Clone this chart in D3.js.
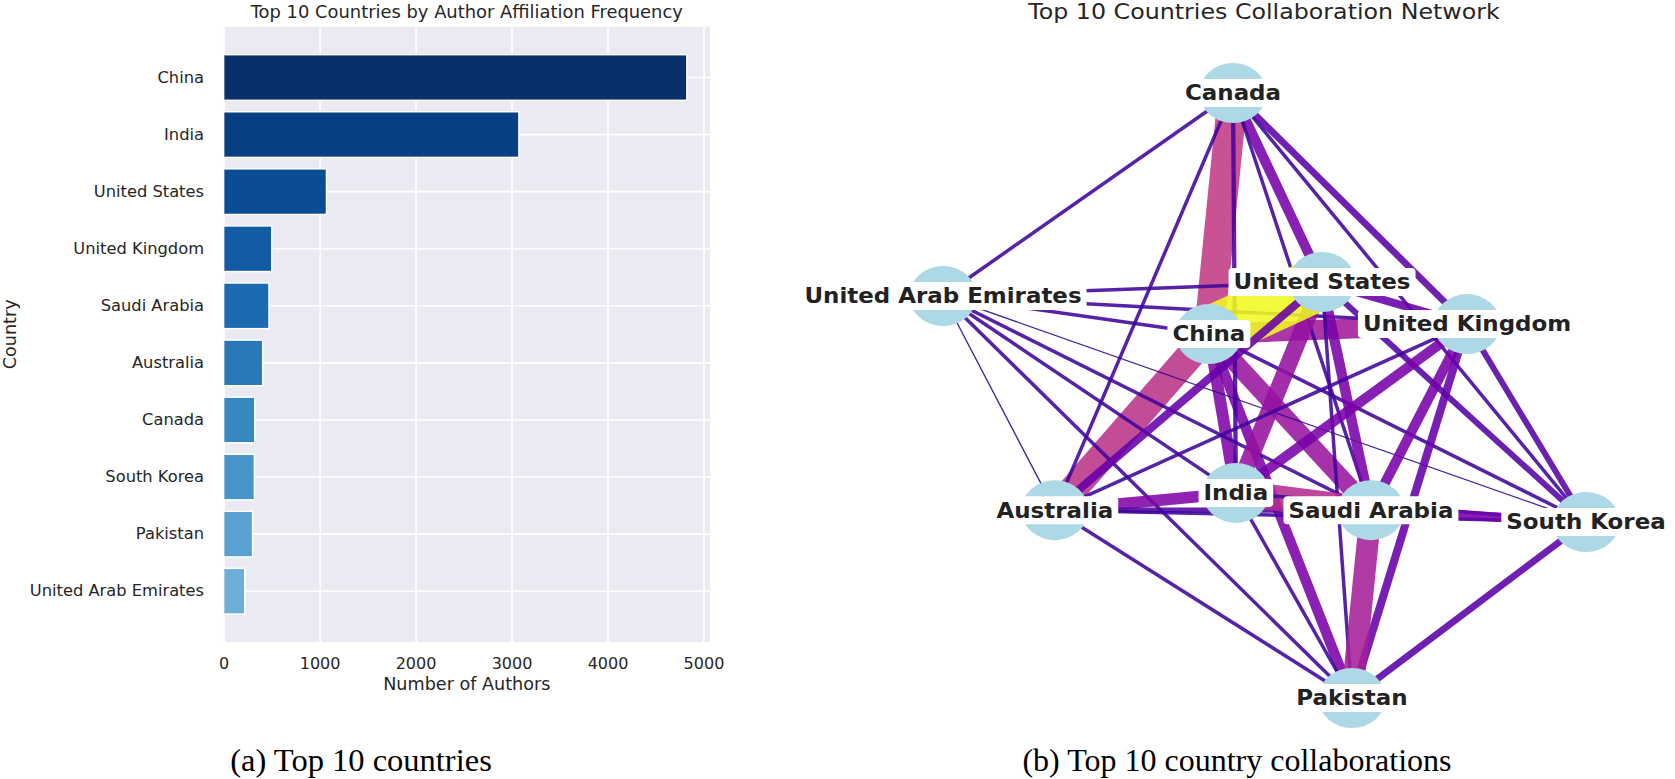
<!DOCTYPE html>
<html>
<head>
<meta charset="utf-8">
<script src="https://cdn.jsdelivr.net/npm/d3@7"></script>
<style>
  body { margin: 0; background: #fff; }
</style>
</head>
<body>
<svg id="chart" width="1675" height="779"></svg>
<script>
// ---- (a) bar chart data ----
const countries = ["China", "India", "United States", "United Kingdom", "Saudi Arabia",
                   "Australia", "Canada", "South Korea", "Pakistan", "United Arab Emirates"];
const authorCounts = [4827, 3077, 1072, 502, 473, 407, 325, 321, 302, 221];
const xTicks = [0, 1000, 2000, 3000, 4000, 5000];

// ---- (b) network data ----
const nodeNames = ["Canada", "United Arab Emirates", "United States", "China", "United Kingdom",
                   "Australia", "India", "Saudi Arabia", "South Korea", "Pakistan"];
// layout positions (spring-layout style coordinates)
const nodeX = [-0.098, -1.0, 0.179, -0.173, 0.630, -0.652, -0.089, 0.331, 1.0, 0.272];
const nodeY = [1.0, 0.329, 0.375, 0.203, 0.236, -0.379, -0.322, -0.379, -0.418, -1.0];

// edges in drawing order
const edgeFrom = ["Canada", "China", "China", "China", "China", "China", "China", "China",
  "Canada", "Canada", "Canada", "Canada", "Canada", "Canada", "Canada",
  "United Arab Emirates", "United Arab Emirates", "United Arab Emirates", "United Arab Emirates",
  "United Arab Emirates", "United Arab Emirates", "United Arab Emirates",
  "United States", "United States", "United States", "United States", "United States",
  "United Kingdom", "United Kingdom", "United Kingdom", "United Kingdom", "United Kingdom",
  "Australia", "Australia", "Australia", "Australia",
  "India", "India", "India", "Saudi Arabia", "Saudi Arabia", "South Korea",
  "China", "United States"];
const edgeTo = ["China", "Australia", "United Kingdom", "Saudi Arabia", "India", "Pakistan",
  "United Arab Emirates", "South Korea",
  "United Arab Emirates", "Australia", "India", "United States", "Saudi Arabia", "South Korea", "United Kingdom",
  "United States", "United Kingdom", "Australia", "India", "Saudi Arabia", "Pakistan", "South Korea",
  "United Kingdom", "India", "Saudi Arabia", "Pakistan", "South Korea",
  "Australia", "India", "Saudi Arabia", "Pakistan", "South Korea",
  "India", "Saudi Arabia", "South Korea", "Pakistan",
  "Saudi Arabia", "Pakistan", "South Korea", "Pakistan", "South Korea", "Pakistan",
  "United States", "Australia"];
const edgeWeight = [111, 104, 74, 67, 44, 38, 13, 13,
  13, 13, 16, 37, 13, 13, 25,
  13, 13, 5, 13, 13, 13, 5,
  30, 63, 38, 13, 22,
  13, 37, 37, 30, 22,
  43, 20, 13, 13,
  96, 13, 13, 81, 35, 25,
  200, 30];

const svg = d3.select("#chart");
const ink = "#262626";

// =================== (a) Top 10 countries ===================
const plot = { left: 223.6, right: 710, top: 26.7, bottom: 642 };

const x = d3.scaleLinear()
    .domain([0, 5068])
    .range([plot.left, plot.right]);

const y = d3.scaleBand()
    .domain(countries)
    .range([plot.top, plot.bottom])
    .paddingInner(0.2)
    .paddingOuter(0.49);

const shade = d3.scaleLinear()
    .domain([0, countries.length - 1])
    .range([1.0, 0.5]);

const barPanel = svg.append("g");

barPanel.append("rect")
    .attr("x", plot.left)
    .attr("y", plot.top)
    .attr("width", plot.right - plot.left)
    .attr("height", plot.bottom - plot.top)
    .attr("fill", "#eaeaf2");

// grid lines
const xGrid = barPanel.append("g")
    .attr("transform", `translate(0,${plot.bottom})`)
    .call(d3.axisBottom(x).tickValues(xTicks).tickSize(-(plot.bottom - plot.top)).tickFormat(""));
xGrid.select(".domain").remove();
xGrid.selectAll("line").attr("stroke", "#fff").attr("stroke-width", 1.6);

const yGrid = barPanel.append("g")
    .attr("transform", `translate(${plot.left},0)`)
    .call(d3.axisLeft(y).tickSize(-(plot.right - plot.left)).tickFormat(""));
yGrid.select(".domain").remove();
yGrid.selectAll("line").attr("stroke", "#fff").attr("stroke-width", 1.6);

// bars
barPanel.selectAll(".bar")
    .data(countries)
    .enter()
    .append("rect")
    .attr("class", "bar")
    .attr("x", x(0))
    .attr("y", d => y(d))
    .attr("width", (d, i) => x(authorCounts[i]) - x(0))
    .attr("height", y.bandwidth())
    .attr("fill", (d, i) => d3.interpolateBlues(shade(i)))
    .attr("stroke", "#fff")
    .attr("stroke-width", 1.5);

// axes
const xAxis = barPanel.append("g")
    .attr("transform", `translate(0,${plot.bottom})`)
    .call(d3.axisBottom(x).tickValues(xTicks).tickSize(0).tickPadding(15.5).tickFormat(d3.format("d")));
xAxis.select(".domain").remove();
xAxis.attr("font-family", "DejaVu Sans").attr("font-size", 16);
xAxis.selectAll("text").attr("fill", ink);

const yAxis = barPanel.append("g")
    .attr("transform", `translate(${plot.left},0)`)
    .call(d3.axisLeft(y).tickSize(0).tickPadding(19.6));
yAxis.select(".domain").remove();
yAxis.attr("font-family", "DejaVu Sans").attr("font-size", 16.3);
yAxis.selectAll("text").attr("fill", ink);

// titles
barPanel.append("text")
    .attr("x", (plot.left + plot.right) / 2)
    .attr("y", 17.5)
    .attr("text-anchor", "middle")
    .attr("font-family", "DejaVu Sans")
    .attr("font-size", 17.9)
    .attr("fill", ink)
    .text("Top 10 Countries by Author Affiliation Frequency");

barPanel.append("text")
    .attr("x", (plot.left + plot.right) / 2)
    .attr("y", 690)
    .attr("text-anchor", "middle")
    .attr("font-family", "DejaVu Sans")
    .attr("font-size", 17.6)
    .attr("fill", ink)
    .text("Number of Authors");

barPanel.append("text")
    .attr("transform", `translate(16,${(plot.top + plot.bottom) / 2}) rotate(-90)`)
    .attr("text-anchor", "middle")
    .attr("font-family", "DejaVu Sans")
    .attr("font-size", 17.6)
    .attr("fill", ink)
    .text("Country");

// =================== (b) collaboration network ===================
const nx = d3.scaleLinear().domain([-1, 1]).range([943, 1586]);
const ny = d3.scaleLinear().domain([-1, 1]).range([698, 93]);
const stretch = 1.12;

const nodes = nodeNames.map((name, i) => ({ name, x: nodeX[i], y: nodeY[i] }));
const byName = new Map(nodes.map(d => [d.name, d]));
const edges = edgeFrom.map((s, i) => ({ source: byName.get(s), target: byName.get(edgeTo[i]), weight: edgeWeight[i] }));

const edgeWidth = d3.scaleLinear().domain([0, d3.max(edgeWeight)]).range([0, 54]);
const colorPos = d3.scaleLinear()
    .domain([d3.min(edgeWeight), 40, 110, d3.max(edgeWeight)])
    .range([0.05, 0.25, 0.45, 1]);

const netPanel = svg.append("g");

netPanel.append("text")
    .attr("transform", `translate(1264,19) scale(${stretch},1)`)
    .attr("text-anchor", "middle")
    .attr("font-family", "DejaVu Sans")
    .attr("font-size", 21.2)
    .attr("fill", ink)
    .text("Top 10 Countries Collaboration Network");

netPanel.selectAll(".edge")
    .data(edges)
    .enter()
    .append("line")
    .attr("class", "edge")
    .attr("x1", d => nx(d.source.x))
    .attr("y1", d => ny(d.source.y))
    .attr("x2", d => nx(d.target.x))
    .attr("y2", d => ny(d.target.y))
    .attr("stroke", d => d3.interpolatePlasma(colorPos(d.weight)))
    .attr("stroke-width", d => edgeWidth(d.weight))
    .attr("stroke-opacity", 0.88);

netPanel.selectAll(".node")
    .data(nodes)
    .enter()
    .append("ellipse")
    .attr("class", "node")
    .attr("cx", d => nx(d.x))
    .attr("cy", d => ny(d.y))
    .attr("rx", 33.5)
    .attr("ry", 30)
    .attr("fill", "#add8e6");

const labels = netPanel.selectAll(".label")
    .data(nodes)
    .enter()
    .append("g")
    .attr("class", "label")
    .attr("transform", d => `translate(${nx(d.x)},${ny(d.y)})`);

labels.append("rect").attr("fill", "#fff").attr("rx", 4);

labels.append("text")
    .attr("transform", `scale(${stretch},1)`)
    .attr("text-anchor", "middle")
    .attr("dy", "0.36em")
    .attr("font-family", "DejaVu Sans")
    .attr("font-weight", "bold")
    .attr("font-size", 20.5)
    .attr("fill", "#222")
    .text(d => d.name)
    .each(function () {
        const w = this.getComputedTextLength() * stretch;
        d3.select(this.parentNode).select("rect")
            .attr("x", -w / 2 - 5)
            .attr("y", -14)
            .attr("width", w + 10)
            .attr("height", 28);
    });

// =================== captions ===================
svg.append("text")
    .attr("x", 361)
    .attr("y", 771)
    .attr("text-anchor", "middle")
    .attr("font-family", "Liberation Serif")
    .attr("font-size", 32.5)
    .attr("fill", "#000")
    .text("(a) Top 10 countries");

svg.append("text")
    .attr("x", 1237)
    .attr("y", 771)
    .attr("text-anchor", "middle")
    .attr("font-family", "Liberation Serif")
    .attr("font-size", 32)
    .attr("fill", "#000")
    .text("(b) Top 10 country collaborations");
</script>
</body>
</html>
